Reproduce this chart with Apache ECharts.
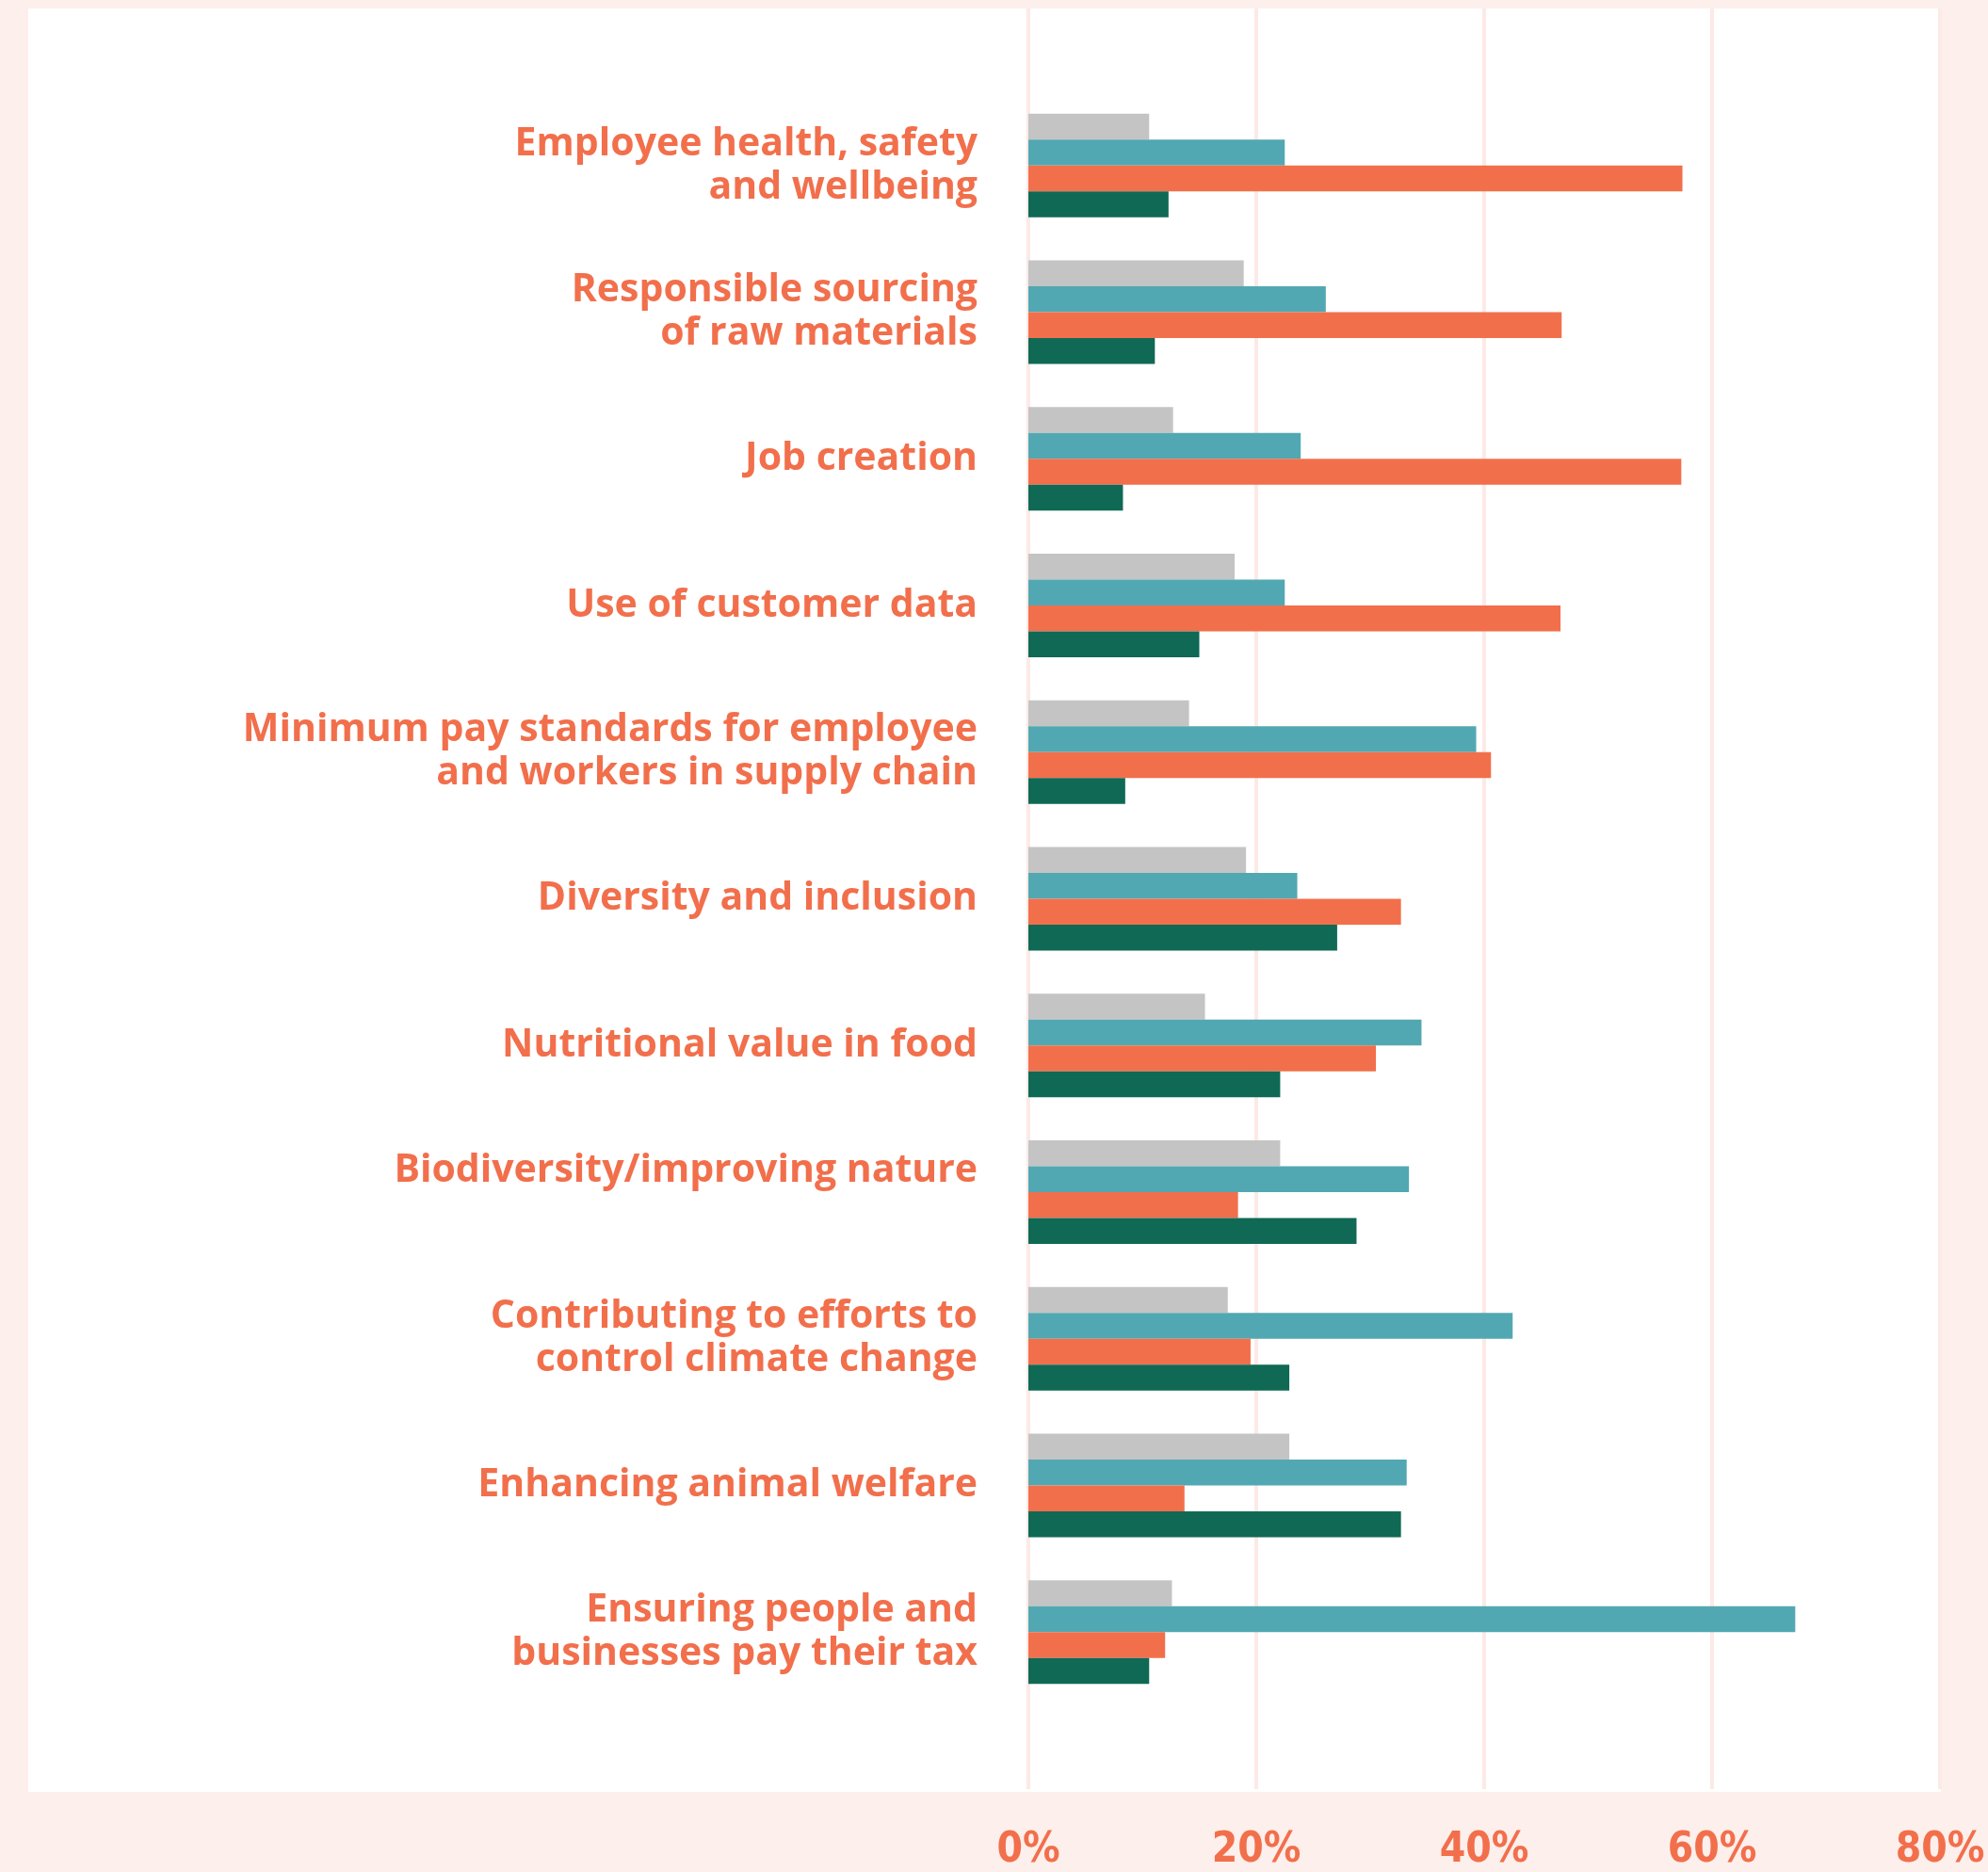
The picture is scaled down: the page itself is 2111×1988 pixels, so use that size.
<!DOCTYPE html>
<html>
<head>
<meta charset="utf-8">
<script src="https://cdn.jsdelivr.net/npm/echarts@6/dist/echarts.min.js"></script>
<style>
  html, body { margin: 0; padding: 0; background: #FDEFEB; }
  #panel { position: absolute; left: 30px; top: 9px; width: 2031px; height: 1894px; background: #ffffff; }
  #chart { position: absolute; left: 0; top: 0; width: 2111px; height: 1988px; }
</style>
</head>
<body>
<div id="panel"></div>
<div id="chart"></div>
<script>
const categories = [
  "Employee health, safety\nand wellbeing",
  "Responsible sourcing\nof raw materials",
  "Job creation",
  "Use of customer data",
  "Minimum pay standards for employee\nand workers in supply chain",
  "Diversity and inclusion",
  "Nutritional value in food",
  "Biodiversity/improving nature",
  "Contributing to efforts to\ncontrol climate change",
  "Enhancing animal welfare",
  "Ensuring people and\nbusinesses pay their tax"
];
// in the reference this one label sits half a line high (it carries an empty second line)
const raisedLabels = ["Biodiversity/improving nature"];
const seriesGrey   = [10.6, 18.9, 12.7, 18.1, 14.1, 19.1, 15.5, 22.1, 17.5, 22.9, 12.6];
const seriesTeal   = [22.5, 26.1, 23.9, 22.5, 39.3, 23.6, 34.5, 33.4, 42.5, 33.2, 67.3];
const seriesOrange = [57.4, 46.8, 57.3, 46.7, 40.6, 32.7, 30.5, 18.4, 19.5, 13.7, 12.0];
const seriesGreen  = [12.3, 11.1, 8.3, 15.0, 8.5, 27.1, 22.1, 28.8, 22.9, 32.7, 10.6];
const xTicks = { min: 0, max: 80, interval: 20 };

const ORANGE = '#F26F4C';
const chart = echarts.init(document.getElementById('chart'), null, { renderer: 'canvas' });

function bar(name, data, color) {
  return {
    name: name, type: 'bar', xAxisIndex: 1, yAxisIndex: 1,
    data: data, barWidth: 27.5, barGap: '0%',
    itemStyle: { color: color }, emphasis: { disabled: true }
  };
}

chart.setOption({
  backgroundColor: 'transparent',
  animation: false,
  grid: [
    { left: 1092, right: 51, top: 9, bottom: 85 },
    { left: 1092, right: 51, top: 98, bottom: 177 }
  ],
  xAxis: [
    {
      gridIndex: 0, type: 'value', min: xTicks.min, max: xTicks.max, interval: xTicks.interval,
      axisLine: { show: false }, axisTick: { show: false },
      splitLine: { show: true, lineStyle: { color: '#FCEAE6', width: 4 } },
      axisLabel: {
        formatter: '{value}%', margin: 44, color: ORANGE,
        fontFamily: '"Liberation Sans Narrow", "DejaVu Sans Condensed", sans-serif',
        fontWeight: 'bold', fontSize: 44
      }
    },
    {
      gridIndex: 1, type: 'value', min: xTicks.min, max: xTicks.max, interval: xTicks.interval,
      show: false, splitLine: { show: false }
    }
  ],
  yAxis: [
    { gridIndex: 0, type: 'value', show: false, splitLine: { show: false } },
    {
      gridIndex: 1, type: 'category', data: categories, inverse: true,
      axisLine: { show: false }, axisTick: { show: false },
      axisLabel: {
        color: ORANGE, fontFamily: '"Open Sans", sans-serif', fontWeight: 'bold',
        fontSize: 41, lineHeight: 46, margin: 54, align: 'right',
        formatter: function (v) { return raisedLabels.indexOf(v) >= 0 ? v + '\n ' : v; }
      }
    }
  ],
  series: [
    bar('Series A', seriesGrey, '#C4C4C4'),
    bar('Series B', seriesTeal, '#52A8B2'),
    bar('Series C', seriesOrange, '#F26F4C'),
    bar('Series D', seriesGreen, '#0F6955')
  ]
});
</script>
</body>
</html>
